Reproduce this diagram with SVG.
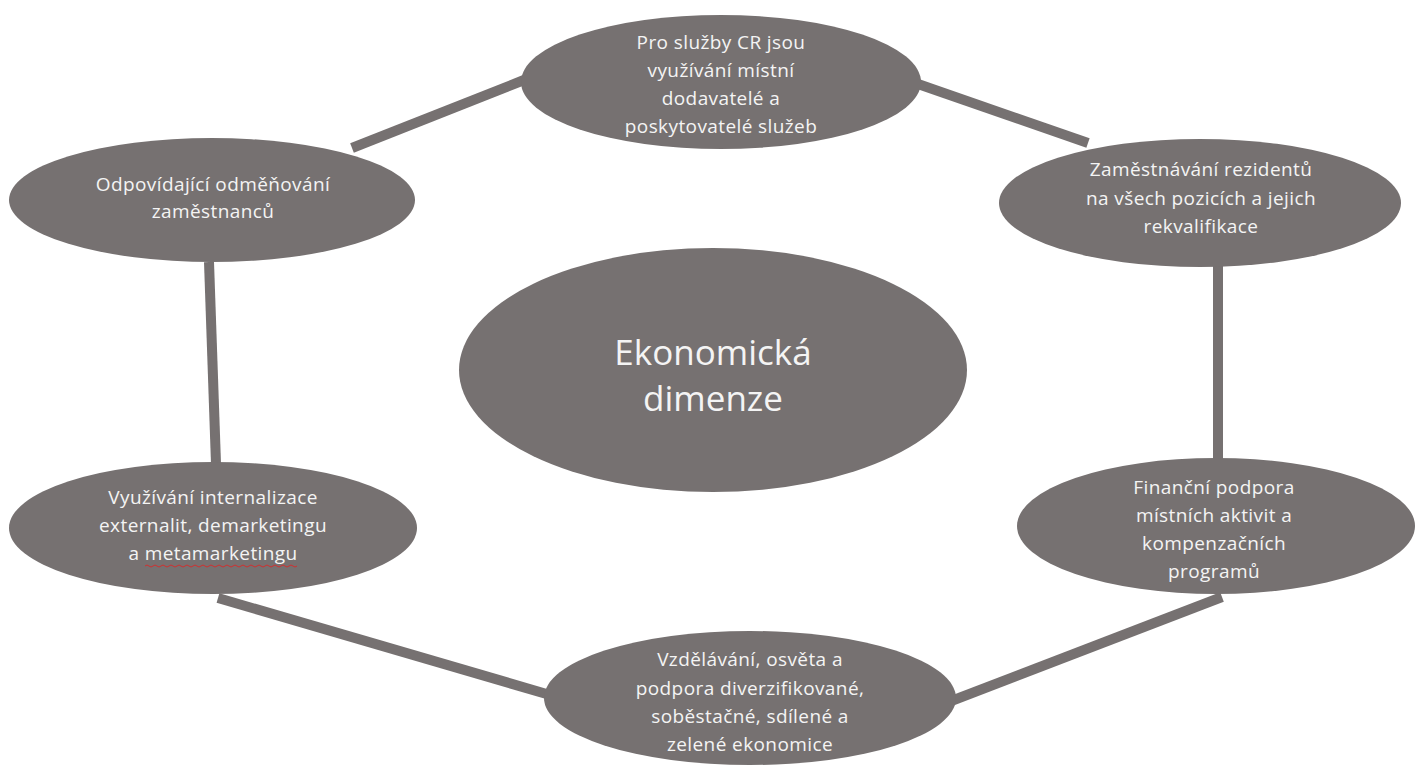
<svg xmlns="http://www.w3.org/2000/svg" width="1416" height="765" viewBox="0 0 1416 765">
  <style>
    .node { fill: #767171; }
    .link { stroke: #767171; stroke-width: 10; fill: none; }
    .lbl { fill: #f4f4f4; font-family: "Open Sans", "Liberation Sans", sans-serif; font-size: 19px; letter-spacing: 0.4px; text-anchor: middle; }
    .big { font-size: 35px; letter-spacing: 0; }
  </style>
  <rect width="1416" height="765" fill="#ffffff"/>

  <g id="connectors">
    <line class="link" x1="352" y1="148" x2="524" y2="80"/>
    <line class="link" x1="918" y1="84" x2="1088" y2="143"/>
    <line class="link" x1="209" y1="262" x2="216" y2="464"/>
    <line class="link" x1="1218" y1="266" x2="1218" y2="460"/>
    <line class="link" x1="218" y1="598" x2="550" y2="695"/>
    <line class="link" x1="946" y1="703" x2="1222" y2="597"/>
  </g>

  <g id="center">
    <ellipse class="node" cx="713" cy="370" rx="254" ry="122"/>
    <text class="lbl big" x="713" y="365">Ekonomická</text>
    <text class="lbl big" x="713" y="411">dimenze</text>
  </g>

  <g id="suppliers">
    <ellipse class="node" cx="721" cy="82" rx="200" ry="67"/>
    <text class="lbl" x="721" y="49">Pro služby CR jsou</text>
    <text class="lbl" x="721" y="77">využívání místní</text>
    <text class="lbl" x="721" y="105">dodavatelé a</text>
    <text class="lbl" x="721" y="133">poskytovatelé služeb</text>
  </g>

  <g id="pay">
    <ellipse class="node" cx="212" cy="200" rx="203" ry="62"/>
    <text class="lbl" x="213" y="191">Odpovídající odměňování</text>
    <text class="lbl" x="213" y="218">zaměstnanců</text>
  </g>

  <g id="employment">
    <ellipse class="node" cx="1200" cy="203" rx="201" ry="64"/>
    <text class="lbl" x="1201" y="176">Zaměstnávání rezidentů</text>
    <text class="lbl" x="1201" y="205">na všech pozicích a jejich</text>
    <text class="lbl" x="1201" y="233">rekvalifikace</text>
  </g>

  <g id="externalities">
    <ellipse class="node" cx="213" cy="528" rx="204" ry="66"/>
    <text class="lbl" x="213" y="504">Využívání internalizace</text>
    <text class="lbl" x="213" y="532">externalit, demarketingu</text>
    <text class="lbl" x="213" y="560">a metamarketingu</text>
    <!-- spell-check wave under "metamarketingu" -->
    <path d="M145,566 q2,-2 4,0 t4,0 t4,0 t4,0 t4,0 t4,0 t4,0 t4,0 t4,0 t4,0 t4,0 t4,0 t4,0 t4,0 t4,0 t4,0 t4,0 t4,0 t4,0 t4,0 t4,0 t4,0 t4,0 t4,0 t4,0 t4,0 t4,0 t4,0 t4,0 t4,0 t4,0 t4,0 t4,0 t4,0 t4,0 t4,0 t4,0 t4,0" fill="none" stroke="#d03030" stroke-width="1"/>
  </g>

  <g id="funding">
    <ellipse class="node" cx="1216" cy="526" rx="199" ry="68"/>
    <text class="lbl" x="1214" y="494">Finanční podpora</text>
    <text class="lbl" x="1214" y="522">místních aktivit a</text>
    <text class="lbl" x="1214" y="550">kompenzačních</text>
    <text class="lbl" x="1214" y="578">programů</text>
  </g>

  <g id="education">
    <ellipse class="node" cx="750" cy="698" rx="206" ry="67"/>
    <text class="lbl" x="750" y="666">Vzdělávání, osvěta a</text>
    <text class="lbl" x="750" y="695">podpora diverzifikované,</text>
    <text class="lbl" x="750" y="723">soběstačné, sdílené a</text>
    <text class="lbl" x="750" y="751">zelené ekonomice</text>
  </g>
</svg>
